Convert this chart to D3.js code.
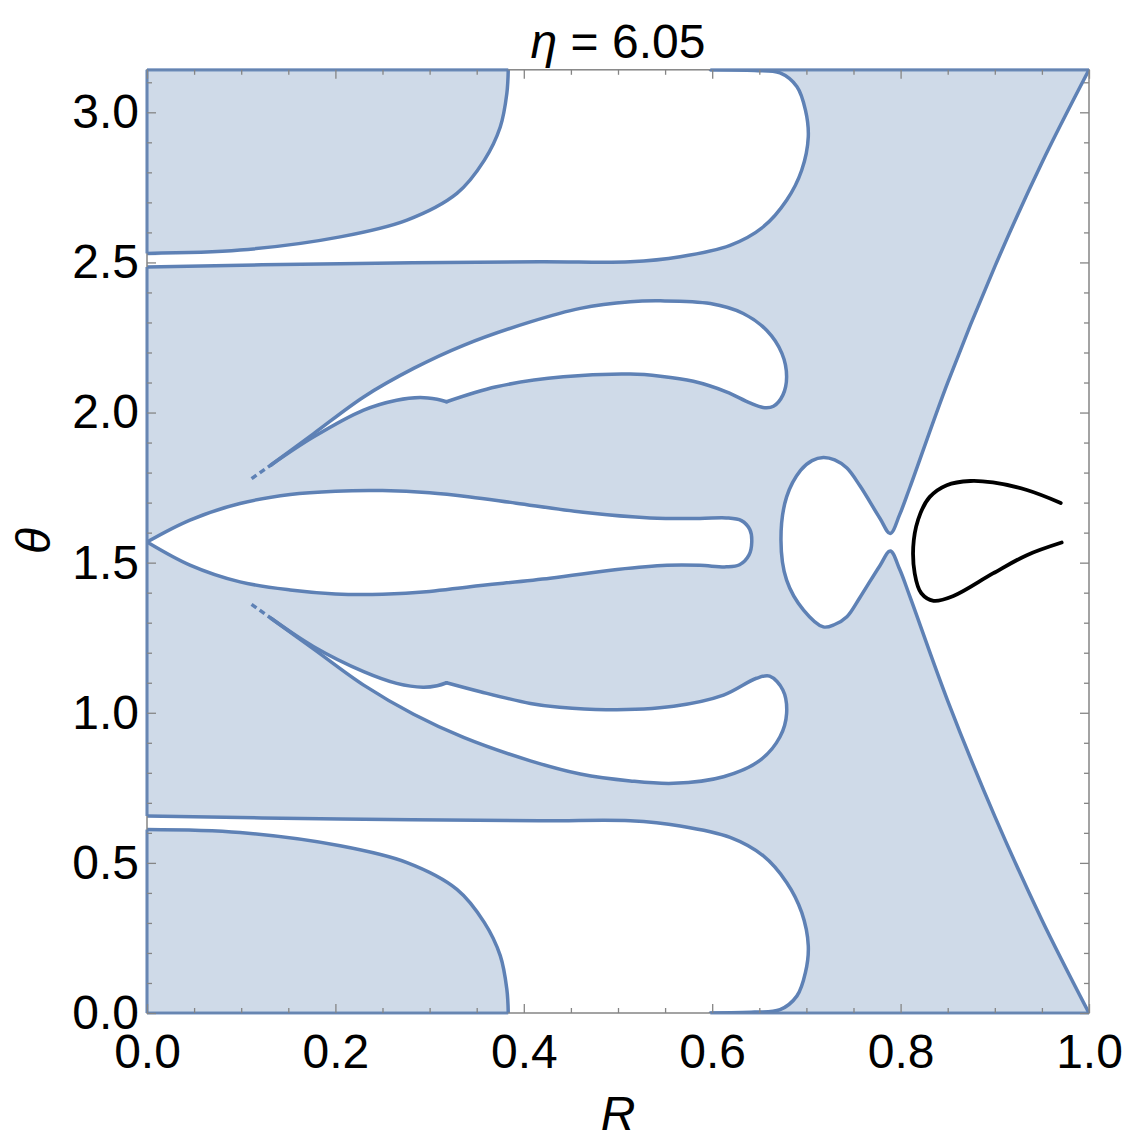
<!DOCTYPE html>
<html>
<head>
<meta charset="utf-8">
<script src="https://cdn.jsdelivr.net/npm/d3@7"></script>
<style>
  html, body { margin: 0; padding: 0; background: #ffffff; }
  svg { display: block; }
</style>
</head>
<body>
<div id="chart"></div>
<script>
// ---------------- data (R, θ) ----------------
const titleText = "6.05";
const xMajor = [0, 0.2, 0.4, 0.6, 0.8, 1.0];
const yMajor = [0, 0.5, 1.0, 1.5, 2.0, 2.5, 3.0];
const xMinorStep = 0.05;
const yMinorStep = 0.1;

// top-left shaded boundary
const curveTopA = [[0,2.530],[0.0987,2.541],[0.205,2.585],[0.276,2.641],[0.329,2.730],[0.358,2.840],[0.375,2.951],[0.382,3.063],[0.3835,3.1416]];
// top white region lower/right boundary
const curveTopB = [[0,2.485],[0.205,2.496],[0.417,2.502],[0.513,2.502],[0.566,2.519],[0.619,2.557],[0.654,2.618],[0.679,2.707],[0.695,2.807],[0.702,2.918],[0.699,3.007],[0.690,3.085],[0.672,3.131],[0.645,3.139],[0.598,3.1416]];
// bottom-left shaded boundary
const curveBotC = [[0,0.611],[0.0987,0.601],[0.205,0.557],[0.276,0.501],[0.329,0.412],[0.358,0.302],[0.375,0.191],[0.382,0.079],[0.3835,0]];
// bottom white region upper/right boundary
const curveBotD = [[0,0.656],[0.205,0.646],[0.417,0.640],[0.513,0.640],[0.566,0.623],[0.619,0.585],[0.654,0.524],[0.679,0.435],[0.695,0.335],[0.702,0.224],[0.699,0.135],[0.690,0.057],[0.672,0.011],[0.645,0.003],[0.598,0]];

// central lobe
const lobeCenter = [[0,1.569],[0.0456,1.642],[0.0987,1.697],[0.152,1.727],[0.200,1.738],[0.250,1.740],[0.300,1.733],[0.343,1.719],[0.392,1.698],[0.463,1.668],[0.534,1.649],[0.587,1.647],[0.615,1.649],[0.631,1.640],[0.640,1.610],[0.642,1.569],[0.639,1.525],[0.629,1.493],[0.615,1.486],[0.587,1.491],[0.552,1.491],[0.499,1.477],[0.428,1.448],[0.343,1.420],[0.300,1.404],[0.250,1.395],[0.200,1.396],[0.152,1.409],[0.0987,1.436],[0.0456,1.492],[0,1.569]];

// upper middle lobe: outer part (tip → around → cusp) and inner part (cusp → tip)
const lobeUpOuter = [[0.132,1.826],[0.177,1.930],[0.230,2.052],[0.283,2.147],[0.336,2.224],[0.407,2.302],[0.460,2.347],[0.513,2.369],[0.545,2.372],[0.598,2.363],[0.633,2.330],[0.658,2.273],[0.674,2.197],[0.679,2.119],[0.675,2.058],[0.665,2.021],[0.654,2.017],[0.640,2.032],[0.615,2.069],[0.580,2.104],[0.545,2.121],[0.513,2.128],[0.442,2.119],[0.371,2.086],[0.318,2.036]];
const lobeUpInner = [[0.318,2.036],[0.308,2.044],[0.290,2.050],[0.265,2.041],[0.230,2.008],[0.177,1.919],[0.132,1.826]];
const lobeUpDash = [[0.111,1.780],[0.132,1.826]];

// lower middle lobe
const lobeLowOuter = [[0.132,1.314],[0.177,1.212],[0.230,1.092],[0.283,0.995],[0.336,0.918],[0.407,0.840],[0.460,0.796],[0.513,0.773],[0.559,0.765],[0.612,0.787],[0.651,0.842],[0.672,0.920],[0.679,0.998],[0.675,1.076],[0.661,1.122],[0.647,1.115],[0.612,1.059],[0.559,1.022],[0.488,1.010],[0.438,1.018],[0.407,1.031],[0.354,1.070],[0.318,1.100]];
const lobeLowInner = [[0.318,1.100],[0.308,1.090],[0.293,1.085],[0.265,1.098],[0.230,1.137],[0.177,1.220],[0.132,1.314]];
const lobeLowDash = [[0.111,1.361],[0.132,1.314]];

// right boundary: upper diagonal → neck → bulb → neck → lower diagonal
const rightBoundary = [[1.0,3.1416],[0.950,2.832],[0.900,2.486],[0.850,2.100],[0.810,1.752],[0.799,1.660],[0.789,1.597],[0.778,1.648],[0.757,1.755],[0.743,1.815],[0.730,1.842],[0.718,1.850],[0.706,1.840],[0.694,1.808],[0.679,1.719],[0.673,1.575],[0.679,1.442],[0.697,1.342],[0.718,1.286],[0.730,1.294],[0.743,1.320],[0.757,1.385],[0.778,1.490],[0.789,1.539],[0.799,1.478],[0.810,1.386],[0.850,1.040],[0.900,0.655],[0.950,0.310],[1.0,0.0]];

// black curve
const blackCurve = [[0.970,1.699],[0.934,1.742],[0.898,1.767],[0.874,1.772],[0.849,1.758],[0.831,1.719],[0.821,1.664],[0.814,1.575],[0.815,1.464],[0.822,1.398],[0.835,1.373],[0.856,1.389],[0.898,1.464],[0.934,1.525],[0.971,1.567]];

// ---------------- layout ----------------
const W = 1141, H = 1140;
const pL = 147, pR = 1089, pT = 69.8, pB = 1013;
const FILL = "#cfdae8", LINE = "#5e81b5", FRAME = "#858585";
const FONT = "'Liberation Sans', Arial, Helvetica, sans-serif";
const FS = 48;

const svg = d3.select("#chart").append("svg").attr("width", W).attr("height", H);
const x = d3.scaleLinear().domain([0, 1]).range([pL, pR]);
const y = d3.scaleLinear().domain([0, Math.PI]).range([pB, pT]);

svg.append("defs").append("clipPath").attr("id", "clip")
  .append("rect").attr("x", pL).attr("y", pT).attr("width", pR - pL).attr("height", pB - pT);

const g = svg.append("g").attr("clip-path", "url(#clip)");
const lineGen = d3.line().x(d => x(d[0])).y(d => y(d[1])).curve(d3.curveCatmullRom.alpha(0.5));
const join = (...parts) => parts.map((p, i) => i === 0 ? lineGen(p) : lineGen(p).replace(/^M/, "L")).join("") + "Z";
const rev = a => a.slice().reverse();

// shaded background
g.append("rect").attr("x", pL).attr("y", pT).attr("width", pR - pL).attr("height", pB - pT).attr("fill", FILL);

// white holes
const holes = [
  join(curveTopA, rev(curveTopB)),
  join(curveBotC, rev(curveBotD)),
  join(lobeCenter),
  join(lobeUpOuter, lobeUpInner),
  join(lobeLowOuter, lobeLowInner),
  join(rightBoundary)
];
g.selectAll("path.hole").data(holes).join("path").attr("class", "hole")
  .attr("d", d => d).attr("fill", "#ffffff").attr("stroke", "none");

// boundary strokes
const strokes = [curveTopA, curveTopB, curveBotC, curveBotD, lobeCenter, lobeUpOuter, lobeUpInner, lobeLowOuter, lobeLowInner, rightBoundary];
g.selectAll("path.bd").data(strokes).join("path").attr("class", "bd")
  .attr("d", d => lineGen(d)).attr("fill", "none").attr("stroke", LINE)
  .attr("stroke-width", 3.5).attr("stroke-linejoin", "round").attr("stroke-linecap", "round");

g.selectAll("path.dash").data([lobeUpDash, lobeLowDash]).join("path").attr("class", "dash")
  .attr("d", d => d3.line().x(p => x(p[0])).y(p => y(p[1]))(d))
  .attr("fill", "none").attr("stroke", LINE).attr("stroke-width", 3.5).attr("stroke-dasharray", "6,4");

g.append("path").attr("d", lineGen(blackCurve)).attr("fill", "none")
  .attr("stroke", "#000").attr("stroke-width", 3.8).attr("stroke-linecap", "round").attr("stroke-linejoin", "round");

// frame
svg.append("rect").attr("x", pL).attr("y", pT).attr("width", pR - pL).attr("height", pB - pT)
  .attr("fill", "none").attr("stroke", FRAME).attr("stroke-width", 1.5);

// shaded-region edges along the frame
const edgeSegs = [
  [[0, 0], [0, curveBotC[0][1]]],
  [[0, curveBotD[0][1]], [0, curveTopB[0][1]]],
  [[0, curveTopA[0][1]], [0, Math.PI]],
  [[0, Math.PI], [curveTopA[curveTopA.length - 1][0], Math.PI]],
  [[curveTopB[curveTopB.length - 1][0], Math.PI], [1, Math.PI]],
  [[0, 0], [curveBotC[curveBotC.length - 1][0], 0]],
  [[curveBotD[curveBotD.length - 1][0], 0], [1, 0]]
];
svg.selectAll("line.edge").data(edgeSegs).join("line").attr("class", "edge")
  .attr("x1", d => x(d[0][0])).attr("y1", d => y(d[0][1]))
  .attr("x2", d => x(d[1][0])).attr("y2", d => y(d[1][1]))
  .attr("stroke", LINE).attr("stroke-width", 3.2).attr("stroke-opacity", 0.85);

// ticks
const xMinor = d3.range(0, 1.0001, xMinorStep).filter(v => Math.abs(v * 5 - Math.round(v * 5)) > 1e-6);
const yMinor = d3.range(0, Math.PI, yMinorStep).filter(v => Math.abs(v * 2 - Math.round(v * 2)) > 1e-6);
const MAJ = 9, MIN = 5;
function styleAxis(sel) {
  sel.select(".domain").remove();
  sel.selectAll(".tick line").attr("stroke", FRAME).attr("stroke-width", 1.3);
  sel.selectAll("text").attr("font-family", FONT).attr("font-size", FS).attr("fill", "#000");
}
svg.append("g").attr("transform", `translate(0,${pB})`)
  .call(d3.axisBottom(x).tickValues(xMajor).tickSize(-MAJ).tickPadding(21).tickFormat(d3.format(".1f"))).call(styleAxis);
svg.append("g").attr("transform", `translate(0,${pB})`)
  .call(d3.axisBottom(x).tickValues(xMinor).tickSize(-MIN).tickFormat("")).call(styleAxis);
svg.append("g").attr("transform", `translate(0,${pT})`)
  .call(d3.axisTop(x).tickValues(xMajor).tickSize(-MAJ).tickFormat("")).call(styleAxis);
svg.append("g").attr("transform", `translate(0,${pT})`)
  .call(d3.axisTop(x).tickValues(xMinor).tickSize(-MIN).tickFormat("")).call(styleAxis);
svg.append("g").attr("transform", `translate(${pL},0)`)
  .call(d3.axisLeft(y).tickValues(yMajor).tickSize(-MAJ).tickPadding(8).tickFormat(d3.format(".1f"))).call(styleAxis);
svg.append("g").attr("transform", `translate(${pL},0)`)
  .call(d3.axisLeft(y).tickValues(yMinor).tickSize(-MIN).tickFormat("")).call(styleAxis);
svg.append("g").attr("transform", `translate(${pR},0)`)
  .call(d3.axisRight(y).tickValues(yMajor).tickSize(-MAJ).tickFormat("")).call(styleAxis);
svg.append("g").attr("transform", `translate(${pR},0)`)
  .call(d3.axisRight(y).tickValues(yMinor).tickSize(-MIN).tickFormat("")).call(styleAxis);

// title
const title = svg.append("text").attr("x", (pL + pR) / 2).attr("y", 58)
  .attr("text-anchor", "middle").attr("font-family", FONT).attr("font-size", FS).attr("fill", "#000");
title.append("tspan").attr("font-style", "italic").text("η");
title.append("tspan").text(" = " + titleText);

// axis labels
svg.append("text").attr("x", (pL + pR) / 2).attr("y", 1130).attr("text-anchor", "middle")
  .attr("font-family", FONT).attr("font-size", FS).attr("font-style", "italic").text("R");
svg.append("text").attr("transform", "translate(50,541) rotate(-90)").attr("text-anchor", "middle")
  .attr("font-family", FONT).attr("font-size", FS).attr("font-style", "italic").text("θ");
</script>
</body>
</html>
